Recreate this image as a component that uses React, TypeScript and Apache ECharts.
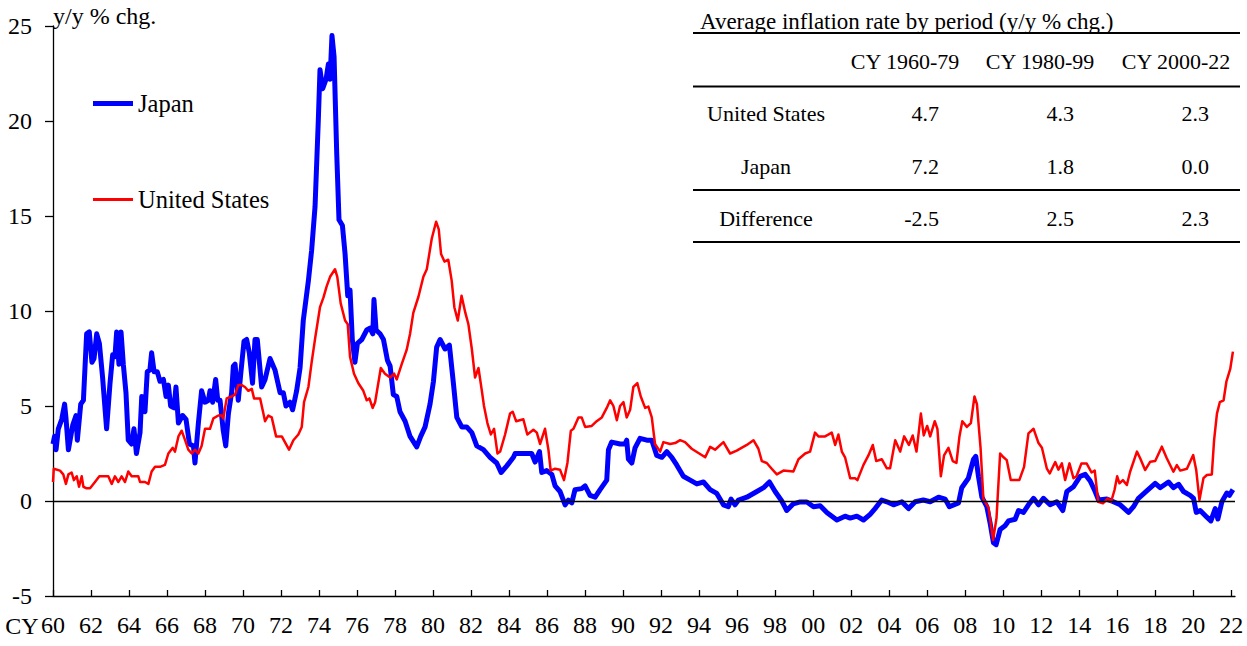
import React, { useEffect, useRef } from 'react';
import * as echarts from 'echarts';

const FONT = '"Liberation Serif", "Times New Roman", serif';

// ---- Data: [year (decimal), y/y % chg.] ----
const japan1960s: [number, number][] = [
  [1960.0, 3.0], [1960.08, 3.4], [1960.16, 2.7], [1960.28, 3.8], [1960.46, 4.3], [1960.61, 5.1], [1960.68, 4.4], [1960.81, 2.7],
  [1961.04, 4.0], [1961.21, 4.5], [1961.28, 3.2], [1961.46, 5.1], [1961.6, 5.3], [1961.77, 8.8], [1961.91, 8.9], [1962.05, 7.3],
  [1962.16, 7.5], [1962.3, 8.8], [1962.44, 8.3], [1962.61, 6.5], [1962.82, 3.8], [1963.0, 6.2], [1963.14, 7.7], [1963.26, 7.6],
  [1963.35, 8.9], [1963.47, 7.2], [1963.58, 8.9], [1963.7, 7.2], [1963.84, 5.7], [1963.96, 3.2], [1964.14, 3.0], [1964.26, 3.8],
  [1964.39, 2.5], [1964.58, 3.6], [1964.67, 5.5], [1964.84, 4.7], [1964.96, 6.8], [1965.1, 6.9], [1965.19, 7.8], [1965.32, 6.8],
  [1965.49, 6.8], [1965.63, 6.3], [1965.81, 6.4], [1965.95, 5.5], [1966.07, 6.1], [1966.19, 5.0], [1966.37, 4.9], [1966.47, 6.0],
  [1966.6, 4.1], [1966.82, 4.5], [1967.0, 4.3], [1967.18, 3.0], [1967.39, 2.9], [1967.47, 2.0], [1967.65, 4.1], [1967.82, 5.8],
  [1968.0, 5.2], [1968.18, 5.3], [1968.26, 5.8], [1968.4, 5.2], [1968.56, 6.4], [1968.67, 5.3], [1968.79, 5.3], [1968.96, 3.7],
  [1969.09, 2.9], [1969.23, 4.6], [1969.4, 5.7], [1969.49, 7.1], [1969.58, 7.2], [1969.75, 5.3], [1969.88, 6.7],
];
const japan1970s: [number, number][] = [
  [1970.05, 8.4], [1970.19, 8.5], [1970.33, 7.8], [1970.5, 6.2], [1970.63, 8.5], [1970.75, 8.5], [1970.98, 6.0], [1971.16, 6.4],
  [1971.42, 7.5], [1971.68, 6.9], [1971.95, 5.7], [1972.12, 5.7], [1972.26, 5.0], [1972.47, 5.2], [1972.61, 4.8], [1972.82, 5.8],
  [1973.0, 7.0], [1973.17, 9.5], [1973.44, 11.6], [1973.61, 13.2], [1973.79, 15.5], [1973.96, 20.0], [1974.05, 22.7], [1974.19, 21.7],
  [1974.37, 22.2], [1974.49, 23.0], [1974.58, 22.2], [1974.68, 24.5], [1974.79, 23.4], [1974.93, 18.3], [1975.05, 14.8], [1975.23, 14.5],
  [1975.37, 13.0], [1975.51, 10.8], [1975.63, 11.1], [1975.75, 8.5], [1975.89, 7.3], [1976.02, 8.3], [1976.25, 8.5], [1976.51, 9.0],
  [1976.68, 9.1], [1976.83, 8.8], [1976.89, 10.6], [1977.0, 9.0], [1977.21, 8.8], [1977.39, 8.5], [1977.6, 7.4], [1977.74, 7.1],
  [1977.91, 5.6], [1978.09, 5.5], [1978.26, 4.7], [1978.53, 4.2], [1978.79, 3.4], [1979.14, 2.85], [1979.35, 3.4], [1979.58, 3.9],
  [1979.84, 5.1],
];
const japan1980s: [number, number][] = [
  [1980.02, 6.3], [1980.19, 8.1], [1980.37, 8.5], [1980.63, 8.0], [1980.86, 8.2], [1981.07, 6.2], [1981.25, 4.4], [1981.51, 3.9],
  [1981.77, 3.9], [1982.04, 3.6], [1982.3, 2.9], [1982.65, 2.7], [1983.0, 2.3], [1983.35, 2.0], [1983.58, 1.5], [1983.88, 1.85],
  [1984.23, 2.3], [1984.32, 2.5], [1984.75, 2.5], [1985.19, 2.5], [1985.37, 2.05], [1985.6, 2.6], [1985.72, 1.5], [1985.98, 1.6],
  [1986.25, 1.4], [1986.42, 0.8], [1986.68, 0.5], [1986.95, -0.2], [1987.12, 0.05], [1987.3, -0.1], [1987.47, 0.6], [1987.82, 0.65],
  [1988.0, 0.8], [1988.26, 0.3], [1988.53, 0.2], [1988.79, 0.6], [1989.14, 1.1], [1989.23, 2.7], [1989.4, 3.1], [1989.84, 3.0],
];
const japan1990s: [number, number][] = [
  [1990.1, 3.0], [1990.19, 3.2], [1990.28, 2.2], [1990.46, 2.0], [1990.63, 2.8], [1990.89, 3.3], [1991.25, 3.2], [1991.51, 3.2],
  [1991.77, 2.4], [1992.04, 2.3], [1992.3, 2.6], [1992.56, 2.3], [1992.82, 1.9], [1993.17, 1.3], [1993.53, 1.1], [1993.88, 0.9],
  [1994.23, 1.0], [1994.58, 0.6], [1994.93, 0.4], [1995.28, -0.2], [1995.54, -0.3], [1995.68, 0.1], [1995.89, -0.2], [1996.07, 0.05],
  [1996.51, 0.2], [1997.04, 0.5], [1997.39, 0.7], [1997.7, 1.0], [1998.0, 0.5], [1998.35, 0.0], [1998.61, -0.5], [1998.96, -0.15],
  [1999.32, -0.05], [1999.67, -0.05],
];
const japan2000s: [number, number][] = [
  [2000.02, -0.3], [2000.37, -0.25], [2000.72, -0.6], [2001.25, -1.0], [2001.68, -0.8], [2001.95, -0.9], [2002.3, -0.8], [2002.65, -1.0],
  [2003.0, -0.7], [2003.26, -0.4], [2003.61, 0.05], [2003.88, -0.04], [2004.23, -0.2], [2004.67, -0.04], [2005.02, -0.4], [2005.37, -0.04],
  [2005.8, 0.05], [2006.16, -0.04], [2006.6, 0.2], [2006.95, 0.1], [2007.17, -0.3], [2007.65, -0.1], [2007.82, 0.7], [2008.17, 1.2],
  [2008.44, 2.2], [2008.56, 2.35], [2008.7, 1.3], [2008.88, 0.2], [2009.14, -0.3], [2009.32, -1.2], [2009.49, -2.2], [2009.63, -2.3],
  [2009.84, -1.5],
];
const japan2010s: [number, number][] = [
  [2010.1, -1.3], [2010.28, -1.05], [2010.63, -0.96], [2010.81, -0.5], [2011.07, -0.6], [2011.33, -0.2], [2011.6, 0.14], [2011.86, -0.2],
  [2012.12, 0.14], [2012.47, -0.2], [2012.82, -0.04], [2013.14, -0.5], [2013.35, 0.5], [2013.7, 0.75], [2014.05, 1.3], [2014.32, 1.4],
  [2014.58, 1.05], [2014.84, 0.5], [2015.02, 0.05], [2015.46, 0.1], [2015.8, -0.04], [2016.16, -0.2], [2016.6, -0.6], [2016.86, -0.3],
  [2017.12, 0.14], [2017.47, 0.45], [2018.0, 0.93], [2018.26, 0.7], [2018.7, 1.0], [2018.96, 0.7], [2019.23, 0.88], [2019.49, 0.5],
  [2019.84, 0.3], [2020.02, 0.14], [2020.16, -0.6], [2020.37, -0.5], [2020.72, -0.85], [2020.93, -1.05], [2021.16, -0.4], [2021.3, -0.95],
  [2021.51, -0.04], [2021.77, 0.42], [2021.91, 0.3], [2022.09, 0.6],
];

const us1960s: [number, number][] = [
  [1960.0, 1.0], [1960.04, 1.7], [1960.37, 1.6], [1960.54, 1.4], [1960.68, 0.9], [1960.81, 1.4], [1960.98, 1.5], [1961.1, 1.1],
  [1961.25, 1.3], [1961.37, 0.75], [1961.51, 1.3], [1961.6, 0.75], [1961.77, 0.67], [1961.95, 0.67], [1962.21, 1.0], [1962.44, 1.3],
  [1962.91, 1.3], [1963.09, 0.9], [1963.26, 1.3], [1963.44, 1.0], [1963.61, 1.3], [1963.79, 1.0], [1963.96, 1.55], [1964.14, 1.3],
  [1964.49, 1.3], [1964.58, 1.0], [1964.84, 1.0], [1965.02, 0.9], [1965.19, 1.55], [1965.37, 1.8], [1965.63, 1.8], [1965.89, 1.9],
  [1966.07, 2.5], [1966.3, 2.8], [1966.42, 2.6], [1966.6, 3.4], [1966.77, 3.7], [1966.95, 3.2], [1967.12, 2.7], [1967.3, 2.5],
  [1967.47, 2.7], [1967.65, 2.5], [1967.82, 2.9], [1968.0, 3.8], [1968.26, 3.8], [1968.44, 4.35], [1968.7, 4.5], [1968.88, 4.5],
  [1968.96, 4.35], [1969.14, 5.4], [1969.4, 5.5], [1969.58, 5.6], [1969.75, 6.1], [1969.93, 6.1],
];
const us1970s: [number, number][] = [
  [1970.1, 6.0], [1970.28, 5.8], [1970.46, 5.9], [1970.58, 5.4], [1970.9, 5.4], [1971.16, 4.2], [1971.33, 4.5], [1971.51, 4.4],
  [1971.74, 3.4], [1972.04, 3.4], [1972.42, 2.7], [1972.65, 3.2], [1972.91, 3.5], [1973.09, 3.9], [1973.21, 5.2], [1973.44, 6.0],
  [1973.61, 7.3], [1973.8, 8.6], [1974.05, 10.2], [1974.23, 10.7], [1974.4, 11.3], [1974.58, 11.8], [1974.84, 12.2], [1974.96, 11.8],
  [1975.14, 10.4], [1975.37, 9.5], [1975.51, 9.3], [1975.63, 7.6], [1975.84, 6.7], [1976.07, 6.2], [1976.33, 5.8], [1976.51, 5.3],
  [1976.65, 5.4], [1976.82, 4.9], [1976.95, 5.2], [1977.25, 7.0], [1977.47, 6.7], [1977.74, 6.5], [1977.95, 6.7], [1978.09, 6.4],
  [1978.35, 7.2], [1978.61, 7.95], [1978.79, 8.8], [1978.96, 9.9], [1979.23, 10.75], [1979.49, 11.8], [1979.67, 12.2], [1979.93, 13.8],
];
const us1980s: [number, number][] = [
  [1980.16, 14.7], [1980.3, 14.3], [1980.42, 13.0], [1980.6, 12.6], [1980.8, 12.7], [1980.98, 11.6], [1981.12, 10.2], [1981.3, 9.5],
  [1981.5, 10.8], [1981.7, 9.9], [1981.86, 9.3], [1982.04, 8.0], [1982.21, 6.5], [1982.39, 7.0], [1982.56, 5.85], [1982.68, 5.0],
  [1982.86, 4.1], [1983.04, 3.5], [1983.21, 3.8], [1983.39, 2.5], [1983.53, 2.6], [1983.79, 3.5], [1984.05, 4.6], [1984.19, 4.7],
  [1984.37, 4.2], [1984.75, 4.3], [1984.96, 3.5], [1985.28, 3.75], [1985.46, 3.6], [1985.63, 3.0], [1985.89, 3.8], [1986.07, 2.7],
  [1986.19, 1.6], [1986.42, 1.7], [1986.68, 1.65], [1986.89, 1.1], [1987.07, 2.0], [1987.25, 3.7], [1987.39, 3.8], [1987.65, 4.4],
  [1987.82, 4.4], [1988.0, 3.9], [1988.35, 3.95], [1988.61, 4.2], [1988.88, 4.4], [1989.14, 4.9], [1989.32, 5.3], [1989.49, 5.0],
  [1989.67, 4.25], [1989.84, 5.0],
];
const us1990s: [number, number][] = [
  [1990.02, 5.2], [1990.19, 4.4], [1990.37, 4.8], [1990.54, 6.0], [1990.75, 6.2], [1990.93, 5.5], [1991.16, 4.9], [1991.33, 4.97],
  [1991.51, 4.4], [1991.68, 3.0], [1991.95, 2.6], [1992.12, 3.1], [1992.47, 3.0], [1992.74, 3.05], [1993.0, 3.2], [1993.26, 3.1],
  [1993.61, 2.75], [1994.32, 2.3], [1994.58, 2.85], [1994.84, 2.7], [1995.28, 3.1], [1995.63, 2.5], [1995.98, 2.65], [1996.51, 2.95],
  [1996.86, 3.2], [1997.12, 2.75], [1997.3, 2.1], [1997.56, 2.0], [1997.82, 1.7], [1998.09, 1.4], [1998.44, 1.6], [1998.96, 1.55],
  [1999.23, 2.2], [1999.58, 2.5], [1999.84, 2.6],
];
const us2000s: [number, number][] = [
  [2000.1, 3.6], [2000.28, 3.4], [2000.63, 3.4], [2000.98, 3.6], [2001.16, 2.95], [2001.33, 3.5], [2001.51, 2.6], [2001.68, 2.3],
  [2001.95, 1.2], [2002.21, 1.2], [2002.33, 1.1], [2002.65, 1.9], [2002.91, 2.4], [2003.14, 2.95], [2003.32, 2.1], [2003.61, 2.2],
  [2003.88, 1.72], [2004.05, 1.72], [2004.32, 3.2], [2004.58, 2.6], [2004.79, 3.4], [2005.04, 2.95], [2005.24, 3.45], [2005.44, 2.6],
  [2005.67, 4.6], [2005.82, 3.45], [2006.0, 3.95], [2006.16, 3.4], [2006.4, 4.2], [2006.54, 3.8], [2006.72, 1.3], [2006.89, 2.4],
  [2007.12, 2.8], [2007.35, 2.1], [2007.54, 2.0], [2007.7, 3.4], [2007.85, 4.2], [2008.09, 3.9], [2008.3, 4.1], [2008.49, 5.5],
  [2008.62, 5.1], [2008.81, 2.8], [2008.96, 0.1], [2009.23, -0.35], [2009.47, -2.05], [2009.65, -0.9], [2009.84, 2.5],
];
const us2010s: [number, number][] = [
  [2010.02, 2.3], [2010.19, 2.15], [2010.4, 1.1], [2010.85, 1.1], [2011.1, 1.8], [2011.33, 3.56], [2011.6, 3.8], [2011.86, 3.05],
  [2012.04, 2.8], [2012.3, 1.7], [2012.45, 1.45], [2012.74, 2.05], [2012.91, 1.65], [2013.09, 1.98], [2013.26, 1.1], [2013.49, 1.98],
  [2013.7, 1.2], [2013.86, 1.3], [2014.12, 1.98], [2014.39, 1.98], [2014.65, 1.5], [2014.82, 1.6], [2015.0, -0.04], [2015.25, -0.12],
  [2015.51, 0.14], [2015.68, -0.04], [2015.86, 0.58], [2016.0, 1.3], [2016.12, 0.93], [2016.3, 1.1], [2016.51, 0.84], [2016.68, 1.54],
  [2017.04, 2.6], [2017.21, 2.25], [2017.47, 1.63], [2017.74, 2.07], [2018.0, 2.1], [2018.35, 2.86], [2018.61, 2.25], [2018.96, 1.54],
  [2019.14, 1.89], [2019.32, 1.6], [2019.67, 1.7], [2020.0, 2.42], [2020.16, 1.63], [2020.33, 0.05], [2020.54, 1.2], [2020.72, 1.37],
  [2020.98, 1.4], [2021.1, 3.2], [2021.25, 4.6], [2021.4, 5.2], [2021.6, 5.3], [2021.75, 6.3], [2021.95, 6.95], [2022.09, 7.86],
];

const japanSeries = [...japan1960s, ...japan1970s, ...japan1980s, ...japan1990s, ...japan2000s, ...japan2010s];
const usSeries = [...us1960s, ...us1970s, ...us1980s, ...us1990s, ...us2000s, ...us2010s];

const xTickYears = [1960, 1962, 1964, 1966, 1968, 1970, 1972, 1974, 1976, 1978, 1980, 1982, 1984, 1986, 1988, 1990,
  1992, 1994, 1996, 1998, 2000, 2002, 2004, 2006, 2008, 2010, 2012, 2014, 2016, 2018, 2020, 2022];
const xTickLabels = ['60', '62', '64', '66', '68', '70', '72', '74', '76', '78', '80', '82', '84', '86', '88', '90',
  '92', '94', '96', '98', '00', '02', '04', '06', '08', '10', '12', '14', '16', '18', '20', '22'];

// ---- Inset table ----
const tableTitle = 'Average inflation rate by period (y/y % chg.)';
const tablePeriods = ['CY 1960-79', 'CY 1980-99', 'CY 2000-22'];
const tableRowNames = ['United States', 'Japan', 'Difference'];
const usAverages = [4.7, 4.3, 2.3];
const japanAverages = [7.2, 1.8, 0.0];
const differenceAverages = [-2.5, 2.5, 2.3];

export default function App() {
  const ref = useRef<HTMLDivElement>(null);

  useEffect(() => {
    document.body.style.margin = '0';
    if (!ref.current) return;
    const chart = echarts.init(ref.current, null, { renderer: 'svg' });

    const txt = (text: string, x: number, y: number, align: string, size = 23) => ({
      type: 'text',
      silent: true,
      style: { text, x, y, fill: '#000', font: `${size}px ${FONT}`, textAlign: align, textVerticalAlign: 'middle' },
    });
    const rule = (y: number) => ({
      type: 'line',
      silent: true,
      shape: { x1: 693, y1: y, x2: 1240, y2: y },
      style: { stroke: '#000', lineWidth: 2 },
    });

    const headerX = [905, 1040, 1176];
    const valueRightX = [939, 1074, 1209];
    const rowY = [113, 166, 218];
    const rowValues = [usAverages, japanAverages, differenceAverages];

    const graphics: any[] = [
      txt('CY', 38.5, 626, 'right', 24),
      txt(tableTitle, 700, 21, 'left', 23),
      rule(33), rule(86.5), rule(190), rule(242),
    ];
    tablePeriods.forEach((p, i) => graphics.push(txt(p, headerX[i], 61, 'center', 22)));
    tableRowNames.forEach((name, r) => {
      graphics.push(txt(name, 766, rowY[r], 'center', 22));
      rowValues[r].forEach((v, c) => graphics.push(txt(v.toFixed(1), valueRightX[c], rowY[r], 'right', 22)));
    });

    const legendBase = {
      left: 93,
      orient: 'vertical',
      icon: 'rect',
      itemWidth: 40,
      padding: 0,
      selectedMode: false,
      textStyle: { fontSize: 24.5, color: '#000', fontFamily: FONT },
    };

    chart.setOption({
      animation: false,
      textStyle: { fontFamily: FONT },
      grid: { left: 53, right: 12, top: 26, bottom: 50, containLabel: false },
      legend: [
        { ...legendBase, data: ['Japan'], top: 91, itemHeight: 5 },
        { ...legendBase, data: ['United States'], top: 187, itemHeight: 3 },
      ],
      xAxis: {
        type: 'value',
        min: 1960,
        max: 2022.2,
        axisLine: { show: true, onZero: false, lineStyle: { color: '#000', width: 1.3 } },
        axisTick: { show: true, inside: true, length: 6, customValues: xTickYears, lineStyle: { color: '#000', width: 1.3 } },
        axisLabel: {
          customValues: xTickYears,
          formatter: (v: number) => {
            const i = xTickYears.indexOf(Math.round(v));
            return i >= 0 ? xTickLabels[i] : '';
          },
          color: '#000',
          fontSize: 24,
          fontFamily: FONT,
          margin: 17,
        },
        splitLine: { show: false },
      },
      yAxis: {
        type: 'value',
        min: -5,
        max: 25,
        interval: 5,
        name: 'y/y % chg.',
        nameLocation: 'end',
        nameGap: -2,
        nameTextStyle: { align: 'left', fontSize: 24, color: '#000', fontFamily: FONT },
        axisLine: { show: true, onZero: false, lineStyle: { color: '#000', width: 1.3 } },
        axisTick: { show: true, length: 8, lineStyle: { color: '#000', width: 1.3 } },
        axisLabel: { color: '#000', fontSize: 24, fontFamily: FONT, margin: 21 },
        splitLine: { show: false },
      },
      series: [
        {
          name: 'Japan',
          type: 'line',
          data: japanSeries,
          symbol: 'none',
          color: '#0000ff',
          lineStyle: { color: '#0000ff', width: 5, join: 'round' },
          itemStyle: { color: '#0000ff' },
          markLine: {
            silent: true,
            symbol: ['none', 'none'],
            label: { show: false },
            lineStyle: { color: '#000', width: 1.3, type: 'solid' },
            data: [{ yAxis: 0 }],
          },
        },
        {
          name: 'United States',
          type: 'line',
          data: usSeries,
          symbol: 'none',
          color: '#ff0000',
          lineStyle: { color: '#ff0000', width: 2.5, join: 'round' },
          itemStyle: { color: '#ff0000' },
        },
      ],
      graphic: graphics,
    });

    return () => chart.dispose();
  }, []);

  return <div ref={ref} style={{ width: 1247, height: 646 }} />;
}
